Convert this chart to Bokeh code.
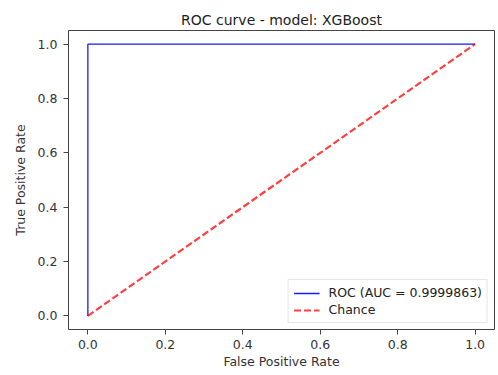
from bokeh.plotting import figure
from bokeh.models import FixedTicker, PrintfTickFormatter, Range1d, Legend, LegendItem
from bokeh.embed import file_html
from bokeh.resources import INLINE

fpr = [0.0, 0.0, 0.001, 1.0]
tpr = [0.0, 0.999, 1.0, 1.0]
chance_x = [0.0, 1.0]
chance_y = [0.0, 1.0]
ticks = [0.0, 0.2, 0.4, 0.6, 0.8, 1.0]
roc_label = "ROC (AUC = 0.9999863)"
chance_label = "Chance"

FONT = "DejaVu Sans"

p = figure(width=496, height=373, output_backend="svg", toolbar_location=None,
           x_range=Range1d(-0.05, 1.05), y_range=Range1d(-0.05, 1.05),
           min_border_left=68, min_border_right=2, min_border_top=30, min_border_bottom=44,
           title="ROC curve - model: XGBoost")
p.frame_width = 426
p.frame_height = 299

p.title.align = "center"
p.title.text_font = FONT
p.title.text_font_size = "14px"
p.title.text_font_style = "normal"
p.title.text_color = "#222222"
p.title.offset = 0
p.title.standoff = 6

r1 = p.line(fpr, tpr, line_color="#0000ff", line_alpha=0.9, line_width=1.3)
r2 = p.line(chance_x, chance_y, line_color="#ff0000", line_alpha=0.75, line_width=2.2, line_dash="7 3")

p.xgrid.visible = False
p.ygrid.visible = False
p.outline_line_color = "#444444"
p.outline_line_width = 1

for ax in (p.xaxis[0], p.yaxis[0]):
    ax.ticker = FixedTicker(ticks=ticks)
    ax.formatter = PrintfTickFormatter(format="%.1f")
    ax.axis_line_color = None
    ax.minor_tick_line_color = None
    ax.major_tick_in = 0
    ax.major_tick_out = 5
    ax.major_tick_line_color = "#444444"
    ax.major_label_text_font = FONT
    ax.major_label_text_font_size = "12.5px"
    ax.major_label_text_color = "#333333"
    ax.axis_label_text_font = FONT
    ax.axis_label_text_font_size = "12.5px"
    ax.axis_label_text_font_style = "normal"
    ax.axis_label_text_color = "#333333"

p.xaxis[0].axis_label = "False Positive Rate"
p.yaxis[0].axis_label = "True Positive Rate"
p.xaxis[0].axis_label_standoff = 2
p.yaxis[0].axis_label_standoff = 7
p.xaxis[0].major_label_standoff = 5
p.yaxis[0].major_label_standoff = 6

legend = Legend(items=[LegendItem(label=roc_label, renderers=[r1]),
                       LegendItem(label=chance_label, renderers=[r2])],
                location="bottom_right")
legend.label_text_font = FONT
legend.label_text_font_size = "12.5px"
legend.label_text_color = "#222222"
legend.border_line_color = "#cccccc"
legend.border_line_width = 1
legend.glyph_width = 26
legend.glyph_height = 14
legend.spacing = 2
legend.padding = 5
legend.margin = 6
legend.label_standoff = 9
legend.label_height = 14
p.add_layout(legend)

open("out.html", "w").write(file_html(p, INLINE))
